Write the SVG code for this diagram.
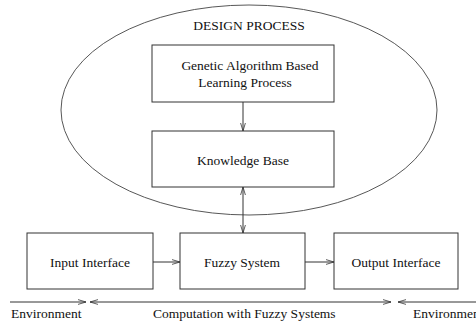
<svg xmlns="http://www.w3.org/2000/svg" width="476" height="325" viewBox="0 0 476 325">
<style>
.box{fill:#fff;stroke:#333;stroke-width:1}
.ln{stroke:#333;stroke-width:1;fill:none}
text{font-family:"Liberation Serif","Times New Roman",serif;font-size:13.5px;fill:#111}
</style>
<defs>
<marker id="ah" viewBox="0 0 10 10" refX="10" refY="5" markerWidth="8" markerHeight="8" markerUnits="userSpaceOnUse" orient="auto-start-reverse">
<polyline points="0,2 10,5 0,8" fill="none" stroke="#333" stroke-width="1"/>
</marker>
</defs>
<rect width="476" height="325" fill="#fff"/>
<g id="design-process">
<ellipse cx="249" cy="110" rx="188" ry="105" fill="none" stroke="#444" stroke-width="0.9"/>
<text x="249" y="30" text-anchor="middle">DESIGN PROCESS</text>
</g>
<g id="ga">
<rect class="box" x="152" y="45" width="182" height="57"/>
<text x="250" y="70" text-anchor="middle">Genetic Algorithm Based</text>
<text x="245" y="87" text-anchor="middle">Learning Process</text>
</g>
<g id="kb">
<rect class="box" x="152" y="131" width="182" height="56"/>
<text x="243" y="165" text-anchor="middle">Knowledge Base</text>
</g>
<g id="input">
<rect class="box" x="27" y="233" width="126" height="56"/>
<text x="90" y="267" text-anchor="middle">Input Interface</text>
</g>
<g id="fuzzy">
<rect class="box" x="180" y="233" width="125" height="56"/>
<text x="242" y="267" text-anchor="middle">Fuzzy System</text>
</g>
<g id="output">
<rect class="box" x="334" y="233" width="124" height="56"/>
<text x="396" y="267" text-anchor="middle">Output Interface</text>
</g>
<g id="connectors">
<line class="ln" x1="243" y1="102" x2="243" y2="131" marker-end="url(#ah)"/>
<line class="ln" x1="243" y1="187" x2="243" y2="233" marker-start="url(#ah)" marker-end="url(#ah)"/>
<line class="ln" x1="153" y1="262" x2="180" y2="262" marker-end="url(#ah)"/>
<line class="ln" x1="305" y1="262" x2="334" y2="262" marker-end="url(#ah)"/>
<line class="ln" x1="10" y1="302" x2="86" y2="302" marker-end="url(#ah)"/>
<line class="ln" x1="90" y1="302" x2="391" y2="302" marker-start="url(#ah)" marker-end="url(#ah)"/>
<line class="ln" x1="398" y1="302" x2="476" y2="302" marker-start="url(#ah)"/>
</g>
<g id="labels">
<text x="11" y="318">Environment</text>
<text x="153" y="318">Computation with Fuzzy Systems</text>
<text x="413" y="318">Environment</text>
</g>
</svg>
